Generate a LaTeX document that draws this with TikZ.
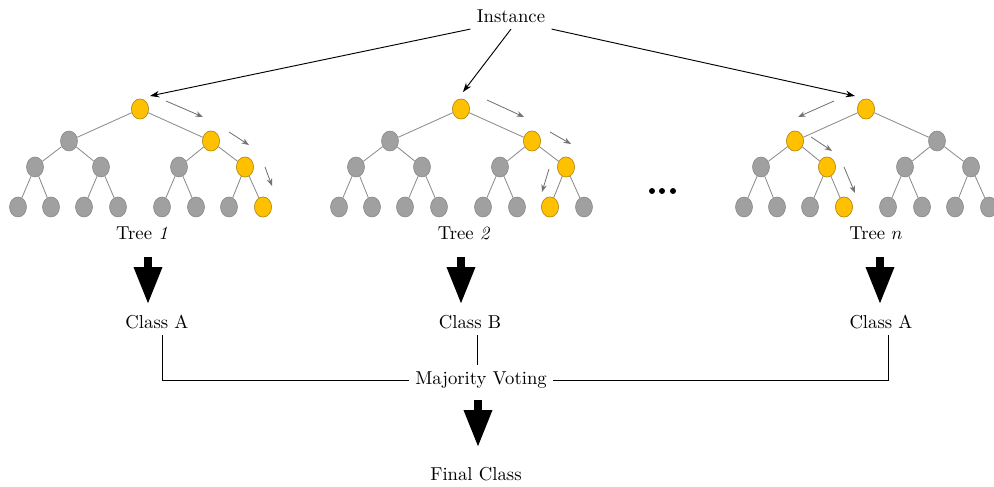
\documentclass[tikz,border=0pt]{standalone}
\usetikzlibrary{arrows.meta,shapes.geometric}

\definecolor{pathyellow}{RGB}{255,192,0}
\definecolor{restgray}{RGB}{160,160,160}

\tikzset{
  treenode/.style={ellipse, draw=restgray!85!black, fill=restgray, line width=0.3pt,
    minimum width=9.1pt, minimum height=10.7pt, inner sep=0pt},
  hotnode/.style={treenode, draw=pathyellow!75!black, fill=pathyellow},
  branch/.style={draw=gray!90, line width=0.45pt},
  hint/.style={draw=gray!90!black, line width=0.45pt, -{Stealth[length=4pt,width=3pt]}},
  feed/.style={line width=0.5pt, -{Stealth[length=5pt,width=3.5pt]}},
  bigarrow/.style={line width=4.8pt, -{Triangle[length=20.3pt,width=13.9pt]}}
}

% one tree: #1 prefix, #2 x of root, #3 nodes on the path
\newcommand{\drawtree}[3]{%
  \begin{scope}[shift={(#2,0)}]
    \foreach \k/\dx/\dy in {1/0/109, 2/-71/141, 3/71/141,
        4/-105/167, 5/-39/167, 6/39/167, 7/105/167,
        8/-122/207, 9/-89/207, 10/-56/207, 11/-22/207,
        12/22/207, 13/56/207, 14/89/207, 15/123/207}
      \node[treenode] (#1-\k) at (\dx,\dy) {};
    \foreach \k in {#3}
      \node[hotnode] at (#1-\k) {};
    \foreach \k in {2,...,15}{
      \pgfmathtruncatemacro{\up}{\k/2}
      \draw[branch] (#1-\up) -- (#1-\k);
    }
  \end{scope}
}

\begin{document}
\begin{tikzpicture}[x=0.535pt, y=-0.535pt]
  \useasboundingbox (0,0) rectangle (994,487);

  \node (inst) at (511,16) {Instance};

  \drawtree{ta}{140}{1,3,7,15}
  \drawtree{tb}{461}{1,3,7,14}
  \drawtree{tn}{866}{1,2,5,11}

  % where the instance enters each tree
  \coordinate (ina) at (150,96);
  \coordinate (inb) at (463,92);
  \coordinate (inn) at (855,96);
  \draw[feed] (inst.south west) -- (ina);
  \draw[feed] (inst.south) -- (inb);
  \draw[feed] (inst.south east) -- (inn);

  % path hints
  \foreach \xa/\ya/\xb/\yb in {166/101/203/117, 229/132/249/145, 265/167/272/186,
      487/100/524/117, 550/132/571/144, 549/169/542/192,
      834/101/798/117, 811/137/832/151, 844/167/855/193}
    \draw[hint] (\xa,\ya) -- (\xb,\yb);

  \foreach \x in {652,662,673}
    \fill (\x,191) circle[radius=1.6pt];

  \node (la) at (142,233) {Tree \textit{1}};
  \node (lb) at (464,233) {Tree \textit{2}};
  \node (ln) at (876,233) {Tree $n$};

  \node (ca) at (157,322) {Class A};
  \node (cb) at (470,322) {Class B};
  \node (cn) at (881,322) {Class A};

  \node (vote) at (481,380) {Majority Voting};
  \node (final) at (476,474) {Final Class};

  \foreach \x/\top/\tip in {148/257/305, 461/257/305, 880/257/305, 478/400/448}
    \draw[bigarrow] (\x,\top) -- (\x,\tip);

  \draw ([xshift=2.7pt]ca.south) |- (vote.west);
  \draw ([xshift=3.7pt]cb.south) -- ([xshift=3.7pt]cb.south |- vote.north);
  \draw ([xshift=3.7pt]cn.south) |- (vote.east);
\end{tikzpicture}
\end{document}
